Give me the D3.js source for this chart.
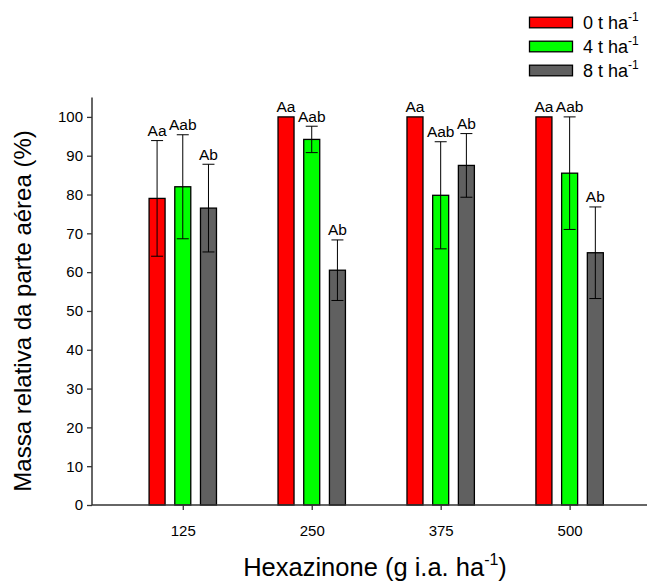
<!DOCTYPE html>
<html>
<head>
<meta charset="utf-8">
<script src="https://cdn.jsdelivr.net/npm/d3@7"></script>
<style>
  body { margin: 0; background: #fff; }
  text { font-family: Arial, "Liberation Sans", sans-serif; }
</style>
</head>
<body>
<svg id="chart" width="648" height="582"></svg>
<script>
const doses = [125, 250, 375, 500];
const series = ["0", "4", "8"];
const colors = ["#ff0000", "#00ff00", "#606060"];

const values0 = [79.0, 100, 100, 100];
const values4 = [82.0, 94.2, 79.8, 85.5];
const values8 = [76.5, 60.5, 87.5, 65.0];

const err0 = [14.9, 0, 0, 0];
const err4 = [13.4, 3.4, 13.8, 14.5];
const err8 = [11.3, 7.8, 8.2, 11.8];

const letters0 = ["Aa", "Aa", "Aa", "Aa"];
const letters4 = ["Aab", "Aab", "Aab", "Aab"];
const letters8 = ["Ab", "Ab", "Ab", "Ab"];

const yTicks = d3.range(0, 101, 10);

const values = [values0, values4, values8];
const errs = [err0, err4, err8];
const letters = [letters0, letters4, letters8];

const rows = [];
doses.forEach((d, i) => {
  series.forEach((s, j) => {
    rows.push({ dose: d, s: j, v: values[j][i], e: errs[j][i], lab: letters[j][i] });
  });
});

const svg = d3.select("#chart");

const x = d3.scaleLinear().domain([37, 575]).range([92, 647]);
const y = d3.scaleLinear().domain([0, 105]).range([505, 97.5]);
const offset = d3.scaleOrdinal().domain([0, 1, 2]).range([-25.7, 0, 25.7]);
const barW = 16;

// bars
svg.append("g").selectAll("rect")
  .data(rows)
  .join("rect")
  .attr("x", d => x(d.dose) + offset(d.s) - barW / 2)
  .attr("y", d => y(d.v))
  .attr("width", barW)
  .attr("height", d => y(0) - y(d.v))
  .attr("fill", d => colors[d.s])
  .attr("stroke", "#000")
  .attr("stroke-width", 1.3);

// error bars
const eg = svg.append("g").attr("stroke", "#000").attr("stroke-width", 1);
const withErr = rows.filter(d => d.e > 0);
eg.selectAll("line.v")
  .data(withErr)
  .join("line")
  .attr("class", "v")
  .attr("x1", d => x(d.dose) + offset(d.s))
  .attr("x2", d => x(d.dose) + offset(d.s))
  .attr("y1", d => y(d.v + d.e))
  .attr("y2", d => y(d.v - d.e));
["top", "bot"].forEach(k => {
  eg.selectAll("line." + k)
    .data(withErr)
    .join("line")
    .attr("class", k)
    .attr("x1", d => x(d.dose) + offset(d.s) - 6)
    .attr("x2", d => x(d.dose) + offset(d.s) + 6)
    .attr("y1", d => y(k === "top" ? d.v + d.e : d.v - d.e))
    .attr("y2", d => y(k === "top" ? d.v + d.e : d.v - d.e));
});

// letters
svg.append("g").selectAll("text")
  .data(rows)
  .join("text")
  .attr("x", d => x(d.dose) + offset(d.s))
  .attr("y", d => y(d.v + d.e) - 4.5)
  .attr("text-anchor", "middle")
  .attr("font-size", 15.5)
  .attr("fill", "#000")
  .text(d => d.lab);

// y axis
const yAxis = svg.append("g")
  .attr("transform", "translate(92,0)")
  .call(d3.axisLeft(y).tickValues(yTicks).tickSize(5).tickPadding(4));
yAxis.select(".domain").attr("d", `M0,${y(0)}V${y(105)}`);
yAxis.selectAll("text").attr("font-size", 15).attr("font-family", "Arial, 'Liberation Sans', sans-serif").attr("fill", "#000");

// x axis
const xAxis = svg.append("g")
  .attr("transform", `translate(0,${y(0)})`)
  .call(d3.axisBottom(x).tickValues(doses).tickSize(5).tickPadding(15));
xAxis.select(".domain").attr("d", `M${x(37)},0H${x(575)}`);
xAxis.selectAll("text").attr("font-size", 15).attr("font-family", "Arial, 'Liberation Sans', sans-serif").attr("fill", "#000");

svg.selectAll(".domain").attr("stroke", "#333").attr("stroke-width", 1.5);
svg.selectAll(".tick line").attr("stroke", "#333").attr("stroke-width", 1.3);

// axis titles
const xt = svg.append("text")
  .attr("x", 375)
  .attr("y", 576)
  .attr("text-anchor", "middle")
  .attr("font-size", 25.5);
xt.append("tspan").text("Hexazinone (g i.a. ha");
xt.append("tspan").attr("dy", -11).attr("font-size", 16).text("-1");
xt.append("tspan").attr("dy", 11).text(")");

svg.append("text")
  .attr("transform", `translate(31,${(y(0) + y(100)) / 2}) rotate(-90)`)
  .attr("text-anchor", "middle")
  .attr("font-size", 24)
  .text("Massa relativa da parte aérea (%)");

// legend
const legend = svg.append("g");
series.forEach((s, j) => {
  const cy = 22.5 + j * 24;
  legend.append("rect")
    .attr("x", 529.5)
    .attr("y", cy - 5.3)
    .attr("width", 43)
    .attr("height", 10.6)
    .attr("fill", colors[j])
    .attr("stroke", "#000")
    .attr("stroke-width", 1.3);
  const t = legend.append("text")
    .attr("x", 583)
    .attr("y", cy + 6.5)
    .attr("font-size", 18);
  t.append("tspan").text(s + " t ha");
  t.append("tspan").attr("dy", -8).attr("font-size", 12).text("-1");
});
</script>
</body>
</html>
